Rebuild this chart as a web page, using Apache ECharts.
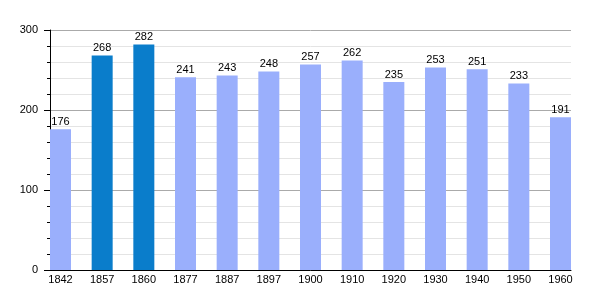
<!DOCTYPE html>
<html>
<head>
<meta charset="utf-8">
<script src="https://cdn.jsdelivr.net/npm/echarts@6/dist/echarts.min.js"></script>
<style>html,body{margin:0;padding:0;background:#fff}#c{width:600px;height:300px}</style>
</head>
<body>
<div id="c"></div>
<script>
var years = ['1842','1857','1860','1877','1887','1897','1900','1910','1920','1930','1940','1950','1960'];
var population = [176,268,282,241,243,248,257,262,235,253,251,233,191];
var highlighted = ['1857','1860'];
var yTicks = [0,100,200,300];

var lightColor = '#9aaffc';
var darkColor = '#0a7dcb';
var font = 'Liberation Sans, Arial, sans-serif';

var chart = echarts.init(document.getElementById('c'), null, {renderer:'canvas'});
chart.setOption({
  animation: false,
  grid: [
    {left: 50, top: 30, width: 521, height: 240},
    {left: 50, top: 30, width: 500, height: 240}
  ],
  xAxis: [
    {gridIndex: 0, type: 'value', min: 0, max: 1,
     axisLine: {show: true, lineStyle: {color: '#000', width: 1}},
     axisTick: {show: false}, axisLabel: {show: false}, splitLine: {show: false}},
    {gridIndex: 1, type: 'category', data: years, boundaryGap: false,
     axisLine: {show: false}, axisTick: {show: false},
     axisLabel: {fontSize: 11, color: '#000', fontFamily: font, margin: 4, padding: [0,0,0,21], interval: 0}}
  ],
  yAxis: [
    {gridIndex: 0, type: 'value', min: yTicks[0], max: yTicks[yTicks.length-1], interval: 100,
     axisLine: {show: true, lineStyle: {color: '#000'}},
     axisTick: {show: true, length: 6, lineStyle: {color: '#000'}},
     minorTick: {show: true, splitNumber: 5, length: 3, lineStyle: {color: '#000'}},
     axisLabel: {fontSize: 11, color: '#000', fontFamily: font, margin: 12},
     splitLine: {show: true, lineStyle: {color: '#aaaaaa'}},
     minorSplitLine: {show: true, lineStyle: {color: '#e4e4e4'}}},
    {gridIndex: 1, type: 'value', min: yTicks[0], max: yTicks[yTicks.length-1], show: false}
  ],
  series: [
    {type: 'bar', xAxisIndex: 1, yAxisIndex: 1, barWidth: 21, barGap: 0,
     data: years.map(function(){return null;}), itemStyle: {opacity: 0}, silent: true},
    {type: 'bar', xAxisIndex: 1, yAxisIndex: 1, barWidth: 21, barGap: 0,
     data: population.map(function(v, i){
       return {value: v, itemStyle: {color: highlighted.indexOf(years[i]) >= 0 ? darkColor : lightColor}};
     }),
     label: {show: true, position: 'top', distance: 2, fontSize: 11, color: '#000', fontFamily: font}}
  ]
});
</script>
</body>
</html>
